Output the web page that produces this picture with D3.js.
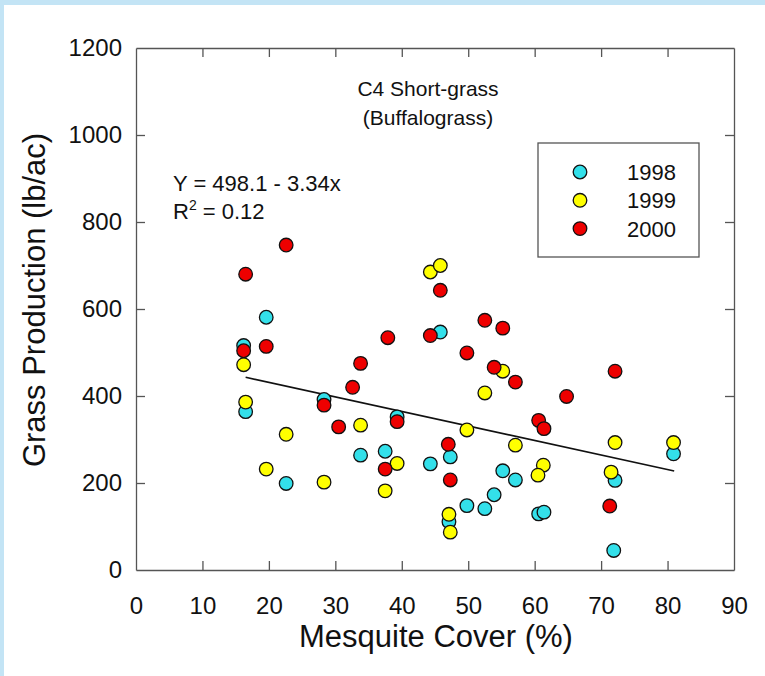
<!DOCTYPE html>
<html>
<head>
<meta charset="utf-8">
<script src="https://cdn.jsdelivr.net/npm/d3@7"></script>
<style>
  html, body { margin: 0; padding: 0; background: #fff; }
  svg { display: block; font-family: Arial, "Liberation Sans", sans-serif; }
</style>
</head>
<body>
<svg id="chart" width="765" height="676"></svg>
<script>
// ---- Data ----
const years = ["1998", "1999", "2000"];
const colors = ["#33e0ea", "#ffff00", "#ee0000"];

const cover1998 = [16.2, 19.6, 16.5, 28.3, 39.3, 45.8, 47.3, 44.3, 33.8, 37.5, 22.6, 55.2, 57.1, 53.9, 49.8, 52.5, 60.6, 61.4, 47.1, 71.9, 72.1, 80.9];
const prod1998  = [516, 581, 364, 392, 352, 547, 260, 244, 264, 273, 199, 228, 207, 173, 148, 141, 129, 133, 111, 45, 206, 267];

const cover1999 = [16.2, 16.5, 19.6, 22.6, 28.3, 33.8, 37.5, 39.3, 44.3, 45.8, 49.8, 52.5, 55.2, 57.1, 61.3, 60.5, 47.1, 47.3, 71.5, 72.1, 80.9];
const prod1999  = [472, 386, 232, 312, 202, 333, 182, 245, 685, 700, 322, 407, 457, 287, 241, 218, 128, 87, 225, 293, 293];

const cover2000 = [16.5, 22.6, 16.2, 19.6, 28.3, 30.5, 32.6, 33.8, 37.9, 37.5, 39.3, 44.3, 45.8, 47.0, 47.3, 49.8, 52.5, 53.9, 55.2, 57.1, 60.6, 61.4, 64.8, 72.1, 71.3];
const prod2000  = [680, 747, 504, 514, 379, 329, 420, 475, 534, 232, 341, 539, 643, 289, 207, 499, 574, 466, 556, 432, 344, 325, 399, 457, 147];

const xTicks = [0, 10, 20, 30, 40, 50, 60, 70, 80, 90];
const yTicks = [0, 200, 400, 600, 800, 1000, 1200];

const fitIntercept = 498.1;
const fitSlope = -3.34;
const fitRange = [16.5, 81];

// ---- Layout ----
const svg = d3.select("#chart");
const W = 765, H = 676;
const pL = 136, pR = 734, pT = 48, pB = 570;

// light blue frame
svg.append("rect").attr("x", 0).attr("y", 0).attr("width", W).attr("height", 5).attr("fill", "#c3e4f5");
svg.append("rect").attr("x", 0).attr("y", 0).attr("width", 4).attr("height", H).attr("fill", "#c3e4f5");

const x = d3.scaleLinear().domain([0, 90]).range([pL, pR]);
const y = d3.scaleLinear().domain([0, 1200]).range([pB, pT]);

const axisColor = "#555";
const tickLen = 9;
const fmt = d3.format("d");

const gB = svg.append("g").attr("transform", `translate(0,${pB})`)
  .call(d3.axisBottom(x).tickValues(xTicks).tickFormat(fmt).tickSizeInner(-tickLen).tickSizeOuter(0).tickPadding(27));
const gT = svg.append("g").attr("transform", `translate(0,${pT})`)
  .call(d3.axisTop(x).tickValues(xTicks).tickSizeInner(-tickLen).tickSizeOuter(0).tickFormat(""));
const gL = svg.append("g").attr("transform", `translate(${pL},0)`)
  .call(d3.axisLeft(y).tickValues(yTicks).tickFormat(fmt).tickSizeInner(-tickLen).tickSizeOuter(0).tickPadding(14));
const gR = svg.append("g").attr("transform", `translate(${pR},0)`)
  .call(d3.axisRight(y).tickValues(yTicks).tickSizeInner(-tickLen).tickSizeOuter(0).tickFormat(""));

[gB, gT, gL, gR].forEach(g => {
  g.selectAll("path.domain").attr("stroke", axisColor).attr("stroke-width", 1.3);
  g.selectAll(".tick line").attr("stroke", axisColor).attr("stroke-width", 1.3);
  g.selectAll(".tick text").attr("fill", "#111").style("font-size", "24px").style("font-family", "Arial, 'Liberation Sans', sans-serif");
});
gB.selectAll(".tick line").filter(d => d === 0 || d === 90).attr("opacity", 0);
gT.selectAll(".tick line").filter(d => d === 0 || d === 90).attr("opacity", 0);
gL.selectAll(".tick line").filter(d => d === 0 || d === 1200).attr("opacity", 0);
gR.selectAll(".tick line").filter(d => d === 0 || d === 1200).attr("opacity", 0);

// axis titles
svg.append("text").attr("x", 436).attr("y", 647).attr("text-anchor", "middle")
  .style("font-size", "31px").attr("fill", "#111").text("Mesquite Cover (%)");
svg.append("text").attr("transform", "translate(45,300) rotate(-90)").attr("text-anchor", "middle")
  .style("font-size", "31px").attr("fill", "#111").text("Grass Production (lb/ac)");

// title
svg.append("text").attr("x", 428).attr("y", 96).attr("text-anchor", "middle")
  .style("font-size", "21px").attr("fill", "#111").text("C4 Short-grass");
svg.append("text").attr("x", 428).attr("y", 125).attr("text-anchor", "middle")
  .style("font-size", "21px").attr("fill", "#111").text("(Buffalograss)");

// equation
svg.append("text").attr("x", 173).attr("y", 191)
  .style("font-size", "22px").attr("fill", "#111").text("Y = 498.1 - 3.34x");
const r2 = svg.append("text").attr("x", 173).attr("y", 219).style("font-size", "22px").attr("fill", "#111");
r2.append("tspan").text("R");
r2.append("tspan").attr("dy", -9).style("font-size", "14px").text("2");
r2.append("tspan").attr("dy", 9).text(" = 0.12");

// regression line
svg.append("line")
  .attr("x1", x(fitRange[0])).attr("y1", y(fitIntercept + fitSlope * fitRange[0]))
  .attr("x2", x(fitRange[1])).attr("y2", y(fitIntercept + fitSlope * fitRange[1]))
  .attr("stroke", "#111").attr("stroke-width", 1.6);

// points
const series = [
  { cover: cover1998, prod: prod1998 },
  { cover: cover1999, prod: prod1999 },
  { cover: cover2000, prod: prod2000 }
];
series.forEach((s, i) => {
  const pts = s.cover.map((c, j) => [c, s.prod[j]]);
  svg.append("g").selectAll("circle").data(pts).join("circle")
    .attr("cx", d => x(d[0])).attr("cy", d => y(d[1])).attr("r", 6.8)
    .attr("fill", colors[i]).attr("stroke", "#111").attr("stroke-width", 1.3);
});

// legend
svg.append("rect").attr("x", 538).attr("y", 143).attr("width", 161).attr("height", 114)
  .attr("fill", "#fff").attr("stroke", axisColor).attr("stroke-width", 1.3);
years.forEach((yr, i) => {
  const cy = 172 + i * 28.3;
  svg.append("circle").attr("cx", 580).attr("cy", cy).attr("r", 6.8)
    .attr("fill", colors[i]).attr("stroke", "#111").attr("stroke-width", 1.3);
  svg.append("text").attr("x", 676).attr("y", cy + 8).attr("text-anchor", "end")
    .style("font-size", "22px").attr("fill", "#111").text(yr);
});
</script>
</body>
</html>
